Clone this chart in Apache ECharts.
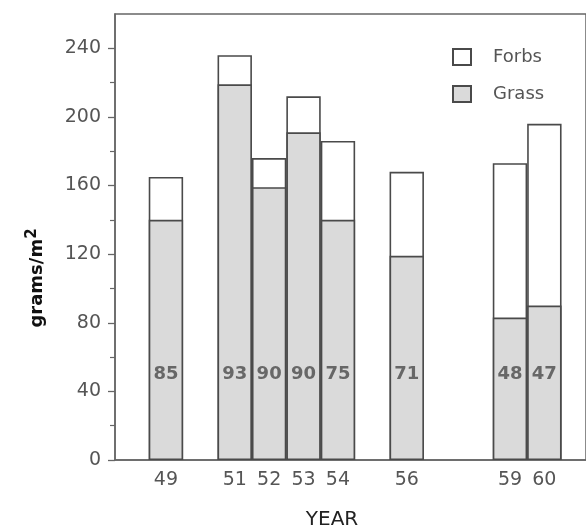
<!DOCTYPE html>
<html>
<head>
<meta charset="utf-8">
<script src="https://cdn.jsdelivr.net/npm/echarts@6/dist/echarts.min.js"></script>
<style>
html,body{margin:0;padding:0;background:#fff;}
#chart{width:586px;height:530px;}
</style>
</head>
<body>
<div id="chart"></div>
<script>
// Data
var years = [49, 51, 52, 53, 54, 56, 59, 60];
var grass = [140, 219, 159, 191, 140, 119, 83, 90];
var forbs = [25, 17, 17, 21, 46, 49, 90, 106];
var grassPercent = ['85', '93', '90', '90', '75', '71', '48', '47'];
var yMajorTicks = [0, 40, 80, 120, 160, 200, 240];
var yMinorTicks = [20, 60, 100, 140, 180, 220];

// forbs are drawn on top of grass: the white bar reaches grass + forbs
var grassPts = years.map(function (y, i) { return [y, grass[i]]; });
var forbsTopPts = years.map(function (y, i) { return [y, grass[i] + forbs[i]]; });

var chart = echarts.init(document.getElementById('chart'));
var ink = '#555';
var axisColor = '#666';
var BAR_W = 34.4;

chart.setOption({
  animation: false,
  backgroundColor: '#fff',
  grid: {
    left: 115, top: 14, right: 0, bottom: 70,
    show: true, borderColor: axisColor, borderWidth: 1.5, backgroundColor: 'transparent'
  },
  legend: {
    orient: 'vertical', left: 452, top: 48, padding: 0,
    itemWidth: 18, itemHeight: 16, itemGap: 19,
    data: ['Forbs', 'Grass'],
    textStyle: { fontFamily: 'DejaVu Sans', fontSize: 18, color: ink, padding: [0, 0, 0, 17] },
    icon: 'rect'
  },
  xAxis: {
    type: 'value',
    min: 47.52, max: 61.21,
    axisLine: { show: true, lineStyle: { color: axisColor, width: 1.5 } },
    axisTick: { show: false },
    splitLine: { show: false },
    axisLabel: {
      customValues: years,
      margin: 11,
      fontFamily: 'DejaVu Sans', fontSize: 19, color: ink
    }
  },
  yAxis: [
    {
      type: 'value',
      min: 0, max: 260, interval: 40,
      axisLine: { show: true, lineStyle: { color: axisColor, width: 1.5 } },
      axisTick: { show: true, length: 7, customValues: yMajorTicks, lineStyle: { color: axisColor, width: 1.3 } },
      splitLine: { show: false },
      axisLabel: {
        customValues: yMajorTicks,
        margin: 14,
        fontFamily: 'DejaVu Sans', fontSize: 19, color: ink
      }
    },
    {
      type: 'value', position: 'left',
      min: 0, max: 260, interval: 20,
      axisLine: { show: false },
      axisTick: { show: true, length: 5, customValues: yMinorTicks, lineStyle: { color: axisColor, width: 1.2 } },
      splitLine: { show: false },
      axisLabel: { show: false }
    }
  ],
  series: [
    {
      name: 'Forbs', type: 'bar', barWidth: BAR_W, barGap: '-100%',
      data: forbsTopPts,
      itemStyle: { color: '#ffffff', borderColor: '#4a4a4a', borderWidth: 1.6 }
    },
    {
      name: 'Grass', type: 'bar', barWidth: BAR_W, barGap: '-100%',
      data: grassPts,
      itemStyle: { color: '#dadada', borderColor: '#4a4a4a', borderWidth: 1.6 }
    },
    {
      name: 'pct', type: 'scatter', symbolSize: 0,
      data: years.map(function (y) { return [y, 50]; }),
      silent: true,
      label: {
        show: true, position: 'inside',
        formatter: function (p) { return grassPercent[p.dataIndex]; },
        fontFamily: 'DejaVu Sans', fontWeight: 'bold', fontSize: 18, color: '#4a4a4a'
      },
      z: 5
    }
  ],
  graphic: [
    {
      type: 'text', x: 37, y: 278, rotation: Math.PI / 2,
      style: {
        text: 'grams/m{sup|2}',
        fontFamily: 'DejaVu Sans', fontWeight: 'bold', fontSize: 18, fill: '#111',
        align: 'center', verticalAlign: 'middle',
        rich: { sup: { fontFamily: 'DejaVu Sans', fontWeight: 'bold', fontSize: 15, fill: '#111', verticalAlign: 'top', padding: [0, 0, 10, 0] } }
      }
    },
    {
      type: 'text', x: 332, y: 520,
      style: {
        text: 'YEAR', fontFamily: 'DejaVu Sans', fontSize: 20, fill: '#222',
        align: 'center', verticalAlign: 'middle'
      }
    }
  ]
});
</script>
</body>
</html>
